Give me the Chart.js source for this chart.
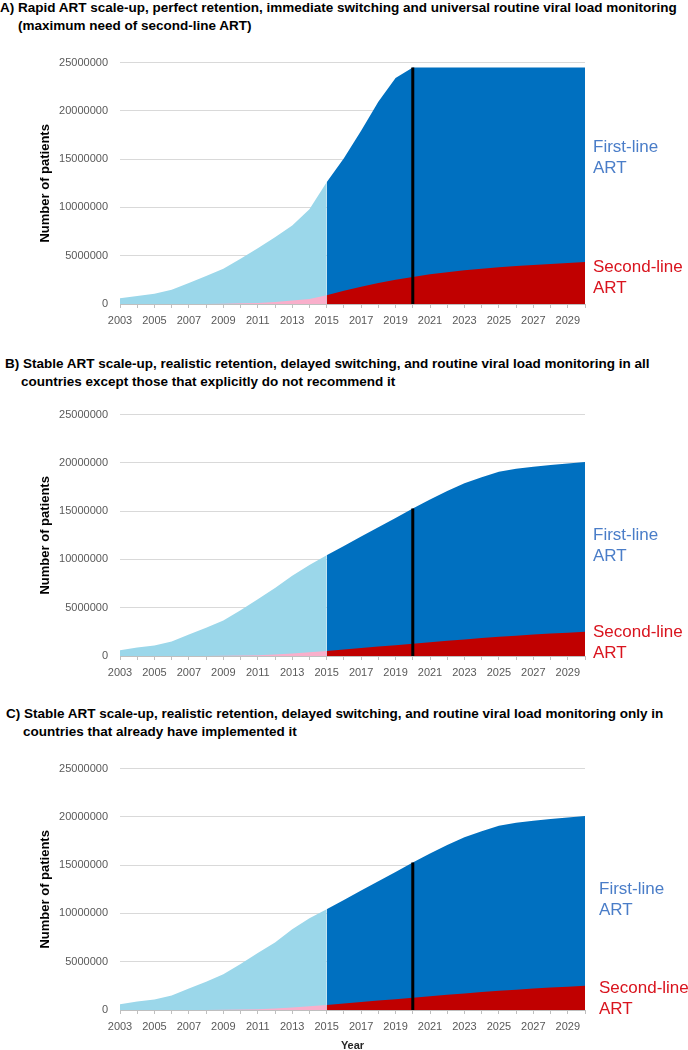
<!DOCTYPE html>
<html>
<head>
<meta charset="utf-8">
<script src="https://cdn.jsdelivr.net/npm/chart.js@4.4.0/dist/chart.umd.min.js"></script>
<style>
  body { margin: 0; width: 688px; height: 1050px; overflow: hidden; background: #fff; position: relative;
         font-family: 'Liberation Sans', Arial, sans-serif; }
  .title { position: absolute; font-weight: bold; font-size: 13.5px; line-height: 17.5px; white-space: nowrap; color: #000; }
  .lbl { position: absolute; font-size: 17px; line-height: 21px; white-space: nowrap; }
  .first { color: #4A7DC8; }
  .second { color: #D9141E; }
  .box { position: absolute; left: 0; }
</style>
</head>
<body>

<div class="title" style="left:18px; top:-1px; text-indent:-18px">A) Rapid ART scale-up, perfect retention, immediate switching and universal routine viral load monitoring<br>(maximum need of second-line ART)</div>
<div class="box" style="top:44px"><canvas id="chartA" width="600" height="290"></canvas></div>
<div class="lbl first" style="left:593px; top:136px">First-line<br>ART</div>
<div class="lbl second" style="left:593px; top:256px">Second-line<br>ART</div>

<div class="title" style="left:21px; top:355px; text-indent:-16px">B) Stable ART scale-up, realistic retention, delayed switching, and routine viral load monitoring in all<br>countries except those that explicitly do not recommend it</div>
<div class="box" style="top:396px"><canvas id="chartB" width="600" height="290"></canvas></div>
<div class="lbl first" style="left:593px; top:524px">First-line<br>ART</div>
<div class="lbl second" style="left:593px; top:621px">Second-line<br>ART</div>

<div class="title" style="left:23px; top:705px; text-indent:-17px">C) Stable ART scale-up, realistic retention, delayed switching, and routine viral load monitoring only in<br>countries that already have implemented it</div>
<div class="box" style="top:750px"><canvas id="chartC" width="600" height="304"></canvas></div>
<div class="lbl first" style="left:599px; top:878px">First-line<br>ART</div>
<div class="lbl second" style="left:599px; top:977px">Second-line<br>ART</div>

<script>
// categories (years)
const years = ['2003', '2004', '2005', '2006', '2007', '2008', '2009', '2010', '2011', '2012',
               '2013', '2014', '2015', '2016', '2017', '2018', '2019', '2020', '2021', '2022',
               '2023', '2024', '2025', '2026', '2027', '2028', '2029', '2030'];

// top of the stacked area (first-line + second-line), per scenario
const totalA = [600000, 840000, 1070000, 1470000, 2170000, 2900000, 3640000, 4680000, 5780000, 6920000,
                8120000, 9800000, 12600000, 15100000, 17950000, 20950000, 23400000, 24480000, 24480000, 24480000,
                24480000, 24480000, 24480000, 24480000, 24480000, 24480000, 24480000, 24480000];
const totalB = [600000, 870000, 1100000, 1500000, 2230000, 2930000, 3670000, 4730000, 5870000, 7030000,
                8300000, 9430000, 10430000, 11400000, 12370000, 13330000, 14300000, 15270000, 16200000, 17100000,
                17900000, 18500000, 19070000, 19400000, 19600000, 19780000, 19940000, 20100000];
const totalC = [600000, 870000, 1100000, 1500000, 2230000, 2930000, 3700000, 4770000, 5900000, 7000000,
                8370000, 9500000, 10430000, 11400000, 12370000, 13330000, 14300000, 15270000, 16200000, 17100000,
                17900000, 18500000, 19070000, 19400000, 19600000, 19780000, 19940000, 20100000];

// second-line ART patients
const secondA = [0, 0, 0, 0, 0, 0, 30000, 70000, 100000, 200000,
                 370000, 530000, 900000, 1370000, 1790000, 2180000, 2500000, 2800000, 3070000, 3300000,
                 3500000, 3650000, 3800000, 3930000, 4050000, 4150000, 4250000, 4350000];
const secondB = [0, 0, 0, 0, 0, 0, 20000, 50000, 80000, 150000,
                 250000, 380000, 530000, 680000, 830000, 980000, 1120000, 1270000, 1420000, 1570000,
                 1720000, 1870000, 2000000, 2110000, 2220000, 2320000, 2420000, 2520000];
const secondC = [0, 0, 0, 0, 0, 0, 20000, 50000, 80000, 150000,
                 250000, 380000, 530000, 680000, 830000, 980000, 1120000, 1270000, 1420000, 1570000,
                 1720000, 1870000, 2000000, 2110000, 2220000, 2320000, 2420000, 2520000];

const yTicks = [0, 5000000, 10000000, 15000000, 20000000, 25000000];
const projectionStart = '2015';
const markerYear = '2020';

const colLightBlue = '#9BD7EA';
const colBlue = '#0070C0';
const colPink = '#F9AFCB';
const colRed = '#C00000';

// hist = up to 2015, proj = from 2015 on
function part(arr, hist) {
    const k = years.indexOf(projectionStart);
    return arr.map((v, i) => (hist ? i <= k : i >= k) ? v : null);
}

function area(data, color, order) {
    return { data: data, backgroundColor: color, borderWidth: 0, pointRadius: 0,
             fill: 'origin', tension: 0, order: order };
}

function makeChart(id, total, second, showYear, xHeight) {
    const top2020 = total[years.indexOf(markerYear)];
    new Chart(document.getElementById(id), {
        type: 'line',
        data: {
            labels: years,
            datasets: [
                { data: [{ x: markerYear, y: 0 }, { x: markerYear, y: top2020 }],
                  borderColor: '#000', borderWidth: 3, pointRadius: 0, fill: false, order: 0 },
                area(part(second, true), colPink, 1),
                area(part(second, false), colRed, 1),
                area(part(total, true), colLightBlue, 2),
                area(part(total, false), colBlue, 2)
            ]
        },
        options: {
            responsive: false,
            animation: false,
            layout: { padding: { top: 10, right: 15, left: 0, bottom: 0 } },
            plugins: { legend: { display: false }, tooltip: { enabled: false } },
            scales: {
                x: {
                    type: 'category',
                    offset: false,
                    grid: { drawOnChartArea: false, drawTicks: true, tickLength: 4, color: '#BFBFBF' },
                    border: { display: true, color: '#BFBFBF' },
                    ticks: {
                        autoSkip: false, maxRotation: 0, minRotation: 0, padding: 6,
                        font: { size: 11, family: 'Liberation Sans' }, color: '#595959',
                        callback: (v, i) => (i % 2 === 0 && i < years.length - 1) ? years[i] : ''
                    },
                    title: { display: showYear, text: 'Year', color: '#262626',
                             font: { size: 11, weight: 'bold', family: 'Liberation Sans' },
                             padding: { top: 0, bottom: 1 } },
                    afterFit: s => { s.height = xHeight; }
                },
                y: {
                    min: 0,
                    max: 25000000,
                    afterBuildTicks: s => { s.ticks = yTicks.map(v => ({ value: v })); },
                    grid: { color: '#D9D9D9', drawTicks: false },
                    border: { display: false },
                    ticks: { padding: 12, font: { size: 11, family: 'Liberation Sans' }, color: '#595959',
                             callback: v => String(v) },
                    title: { display: true, text: 'Number of patients', color: '#000',
                             font: { size: 13, weight: 'bold', family: 'Liberation Sans' },
                             padding: { top: 38, bottom: 0 } },
                    afterFit: s => { s.width = 120; }
                }
            }
        }
    });
}

makeChart('chartA', totalA, secondA, false, 30);
makeChart('chartB', totalB, secondB, false, 30);
makeChart('chartC', totalC, secondC, true, 44);
</script>
</body>
</html>
